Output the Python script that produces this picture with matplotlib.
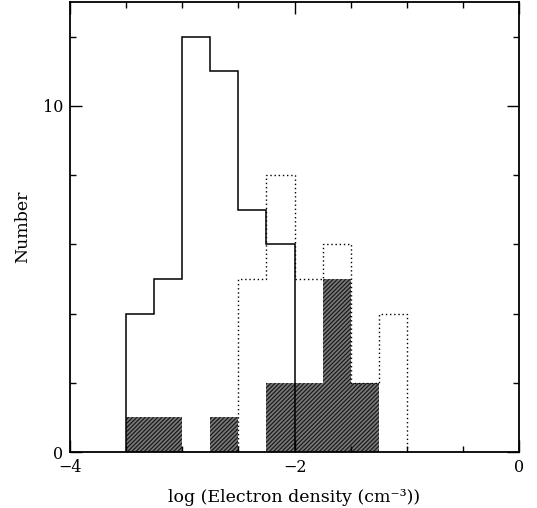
import matplotlib
matplotlib.use("Agg")
import matplotlib.pyplot as plt
import numpy as np
from matplotlib.ticker import MultipleLocator

# Histogram bin edges in log(n_e), bin width 0.25 dex
bin_edges = [-3.5, -3.25, -3.0, -2.75, -2.5, -2.25, -2.0, -1.75, -1.5, -1.25, -1.0]

# Counts per bin for the three samples
counts_solid = [4, 5, 12, 11, 7, 6, 0, 0, 0, 0]
counts_dotted = [0, 0, 0, 0, 5, 8, 5, 6, 2, 4]
counts_shaded = [1, 1, 0, 1, 0, 2, 2, 5, 2, 0]

x_ticks = [-4, -2, 0]
y_ticks = [0, 10]

plt.rcParams["font.family"] = ["DejaVu Serif"]
plt.rcParams["hatch.linewidth"] = 0.9

fig = plt.figure(figsize=(5.37, 5.08), dpi=100)
ax = fig.add_axes([0.1304, 0.1102, 0.8361, 0.8858])

edges = np.array(bin_edges)

# Shaded sample: dense diagonal hatching, no outline
ax.stairs(counts_shaded, edges, fill=True, facecolor="#7a7a7a",
          edgecolor="#1a1a1a", hatch="/" * 8, linewidth=0, zorder=1)

# Dotted sample
ax.stairs(counts_dotted, edges, color="black", linestyle=(0, (1, 2)),
          linewidth=1.0, zorder=2)

# Solid sample (trim trailing empty bins)
n_solid = max(i for i, c in enumerate(counts_solid) if c > 0) + 1
ax.stairs(counts_solid[:n_solid], edges[:n_solid + 1], color="black",
          linewidth=1.1, zorder=3)

ax.set_xlim(-4, 0)
ax.set_ylim(0, 13)
ax.set_xticks(x_ticks)
ax.set_yticks(y_ticks)
ax.set_xticklabels(["\u22124", "\u22122", "0"])
ax.xaxis.set_minor_locator(MultipleLocator(0.5))
ax.yaxis.set_minor_locator(MultipleLocator(2))
ax.tick_params(which="both", direction="in", top=True, right=True,
               labelsize=11.5, width=1.0)
ax.tick_params(which="major", length=8.5, pad=5)
ax.tick_params(which="minor", length=4.3)
for s in ax.spines.values():
    s.set_linewidth(1.3)

ax.set_xlabel("log (Electron density (cm\u207b\u00b3))", fontsize=12.5, labelpad=9.5)
ax.set_ylabel("Number", fontsize=12.5, labelpad=8)

fig.savefig("out.png", dpi=100)
